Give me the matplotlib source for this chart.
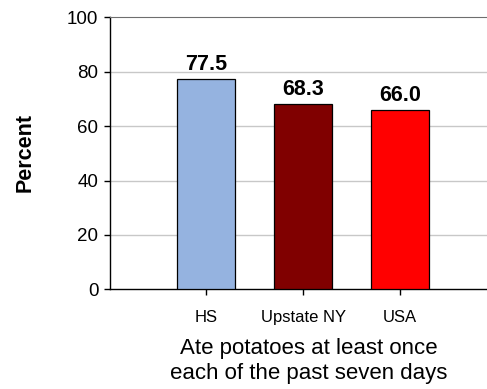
import matplotlib
matplotlib.use("Agg")
import matplotlib.pyplot as plt

plt.rcParams["font.family"] = ["Liberation Sans", "DejaVu Sans"]

# ---------- data ---------------------------------------------------------
categories = ["HS", "Upstate NY", "USA"]
values = [77.5, 68.3, 66.0]
labels = ["77.5", "68.3", "66.0"]
colors = ["#95b3e0", "#800000", "#ff0000"]
yticks = [0, 20, 40, 60, 80, 100]

# ---------- plot ---------------------------------------------------------
fig = plt.figure(figsize=(4.87, 3.89), dpi=100)
W, H = 487, 389
x0, x1 = 109.5, 497.0
y_top, y_bot = 17.3, 289.3
ax = fig.add_axes([x0 / W, 1 - y_bot / H, (x1 - x0) / W, (y_bot - y_top) / H])

pos = range(len(categories))
ax.bar(pos, values, width=0.6, color=colors, edgecolor="black",
       linewidth=0.9, zorder=3)
for p, v, lab in zip(pos, values, labels):
    ax.annotate(lab, (p, v), xytext=(0, 6), textcoords="offset points",
                ha="center", va="baseline", fontsize=15.5,
                fontweight="bold", zorder=4)

ax.set_xlim(-1, 3)
ax.set_ylim(0, 100)
ax.set_xticks(list(pos))
ax.set_xticklabels(categories, fontsize=12)
ax.set_yticks(yticks)
ax.tick_params(axis="y", labelsize=13.5, length=4, width=1, pad=4)
ax.tick_params(axis="x", length=4, width=1, pad=11)

for y in yticks[1:-1]:
    ax.axhline(y, color="#c8c8c8", linewidth=1, zorder=1)
ax.spines["top"].set_color("#6e6e6e")
ax.spines["right"].set_visible(False)
ax.spines["left"].set_linewidth(1)
ax.spines["bottom"].set_linewidth(1)

fig.text(24.7 / W, 1 - 152 / H, "Percent", rotation=90, ha="center",
         va="center", fontsize=15.5, fontweight="bold")
fig.text(309 / W, 1 - 361 / H,
         "Ate potatoes at least once\neach of the past seven days",
         ha="center", va="center", fontsize=16, linespacing=1.2)

fig.savefig("out.png", dpi=100)
